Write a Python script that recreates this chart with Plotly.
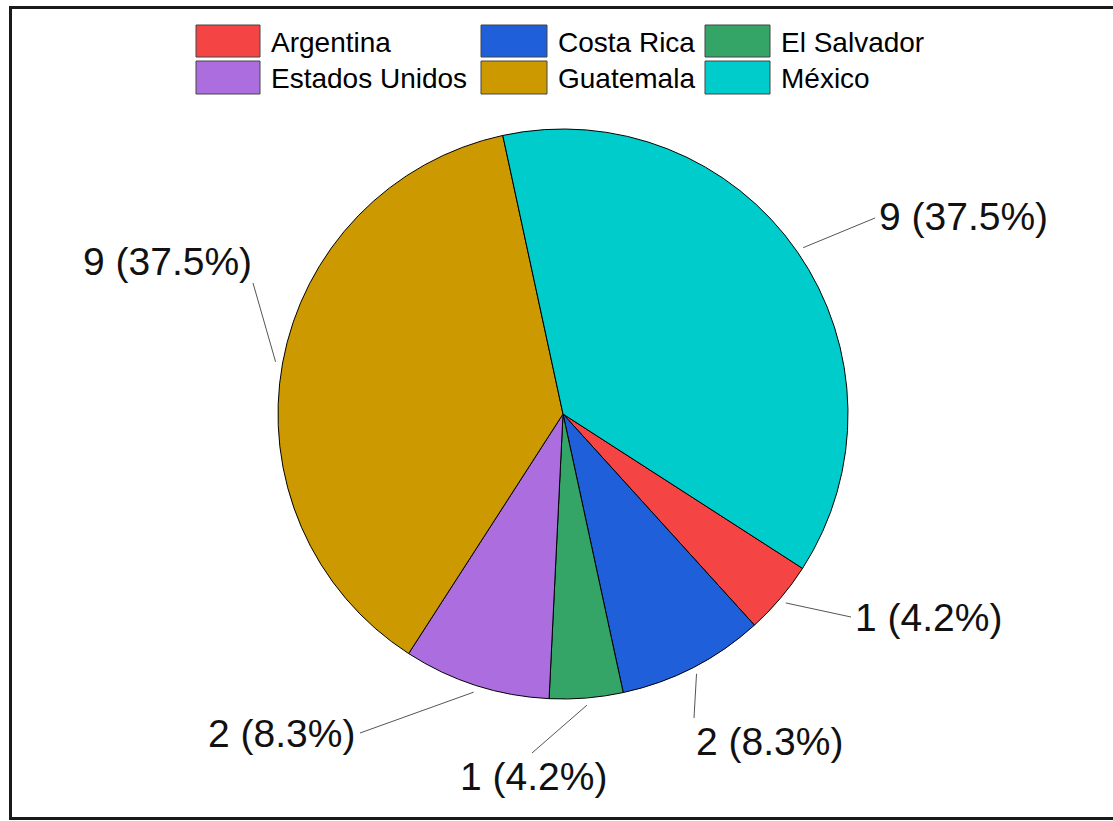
import plotly.graph_objects as go

# Country counts
countries = ["Argentina", "Costa Rica", "El Salvador", "Estados Unidos", "Guatemala", "México"]
counts = [1, 2, 1, 2, 9, 9]
colors = ["#F54444", "#1F5FD9", "#34A566", "#AC6EDF", "#CC9900", "#00CCCC"]

W, H = 1113, 821
CX, CY, R = 563, 414, 285          # pie centre and radius in pixels
START = 122.8                      # angle of first slice, clockwise from 12 o'clock

FONT = "Liberation Sans, Arial, sans-serif"


def px(x):
    return x / W


def py(y):
    return 1 - y / H


fig = go.Figure()
fig.add_trace(go.Pie(
    labels=countries,
    values=counts,
    sort=False,
    direction="clockwise",
    rotation=START,
    marker=dict(colors=colors, line=dict(color="#000000", width=1)),
    textinfo="none",
    hoverinfo="label+value+percent",
    showlegend=False,
    domain=dict(x=[px(CX - R), px(CX + R)], y=[py(CY + R), py(CY - R)]),
))

shapes = []
annotations = []

# Outer frame
shapes.append(dict(type="rect", xref="paper", yref="paper",
                   x0=px(10.5), x1=px(1118), y0=py(818.5), y1=py(7.5),
                   line=dict(color="#1a1a1a", width=3), fillcolor="rgba(0,0,0,0)"))

# Value labels: text anchor (x, y, xanchor) and leader-line end point, in pixels
label_text_pos = [(853, 617, "left"), (694, 741, "left"), (533, 776, "center"),
                  (357, 733, "right"), (254, 262, "right"), (877, 216, "left")]
label_line_end = [(851, 617), (694, 718), (532, 753), (360, 733), (253, 283), (875, 218)]

import math
total = sum(counts)
angle = START
for i, v in enumerate(counts):
    span = 360.0 * v / total
    mid = math.radians(angle + span / 2)
    angle += span
    sx = CX + R * 1.025 * math.sin(mid)
    sy = CY - R * 1.025 * math.cos(mid)
    ex, ey = label_line_end[i]
    shapes.append(dict(type="line", xref="paper", yref="paper",
                       x0=px(sx), y0=py(sy), x1=px(ex), y1=py(ey),
                       line=dict(color="#555555", width=1)))
    tx, ty, anchor = label_text_pos[i]
    pct = 100.0 * v / total
    annotations.append(dict(xref="paper", yref="paper", x=px(tx), y=py(ty),
                            xanchor=anchor, yanchor="middle", showarrow=False,
                            text=f"{v} ({pct:.1f}%)",
                            font=dict(family=FONT, size=39, color="#111111")))

# Legend: three columns, two rows
col_box_x = [(196, 260), (481, 547), (705, 770)]
row_box_y = [(25, 57), (61, 94)]
for i, name in enumerate(countries):
    r, c = divmod(i, 3)
    x0, x1 = col_box_x[c]
    y0, y1 = row_box_y[r]
    shapes.append(dict(type="rect", xref="paper", yref="paper",
                       x0=px(x0), x1=px(x1), y0=py(y1), y1=py(y0),
                       fillcolor=colors[i], line=dict(color="#444444", width=1)))
    annotations.append(dict(xref="paper", yref="paper", x=px(x1 + 9), y=py((y0 + y1) / 2 + 1),
                            xanchor="left", yanchor="middle", showarrow=False,
                            text=name, font=dict(family=FONT, size=28, color="#000000")))

fig.update_layout(
    width=W, height=H,
    margin=dict(l=0, r=0, t=0, b=0),
    paper_bgcolor="#ffffff",
    plot_bgcolor="#ffffff",
    shapes=shapes,
    annotations=annotations,
)

fig.write_html("out.html")
